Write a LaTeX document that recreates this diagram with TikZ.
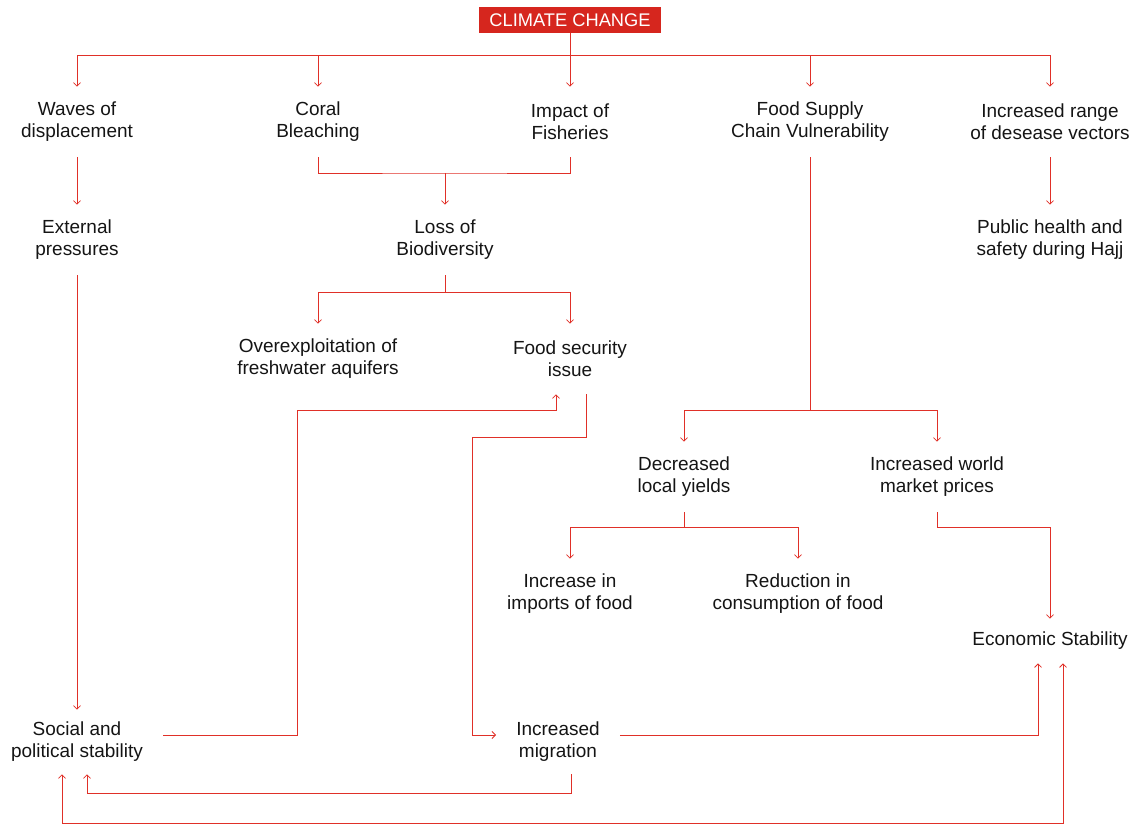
\documentclass[tikz,border=0pt]{standalone}
\usepackage{fontspec}
\setmainfont{Liberation Sans}
\usetikzlibrary{arrows.meta,calc}
\definecolor{flowred}{RGB}{224,48,40}
\definecolor{boxred}{RGB}{214,38,30}
\definecolor{ink}{RGB}{20,20,20}
\tikzset{
    item/.style={align=center, text=ink, inner xsep=0.5cm, inner ysep=0pt,
        minimum height=1.75cm, font=\fontsize{13.5}{15.6}\selectfont},
    single/.style={item, minimum height=1.1cm},
    low/.style={item, minimum height=1.6cm},
    link/.style={draw=flowred, line width=0.6pt},
    arr/.style={link, -{Straight Barb[length=2.5pt,width=5pt]}},
    both/.style={link, {Straight Barb[length=2.5pt,width=5pt]}-{Straight Barb[length=2.5pt,width=5pt]}},
}
\begin{document}
\begin{tikzpicture}[x=0.025cm, y=-0.025cm]
    \useasboundingbox (0,0) rectangle (1145,824);

    % Root box
    \node[fill=boxred, text=white, minimum width=4.525cm, minimum height=0.65cm,
        inner sep=0pt, font=\fontsize{13}{15}\selectfont] (cc) at (570,20) {CLIMATE CHANGE};

    % First row of effects
    \node[item] (waves) at (77,122) {Waves of\\displacement};
    \node[item] (coral) at (318,122) {Coral\\Bleaching};
    \node[item] (fish) at (570,122) {Impact of\\Fisheries};
    \node[item] (food) at (810,122) {Food Supply\\Chain Vulnerability};
    \node[item] (range) at (1050,122) {Increased range\\of desease vectors};

    % Further consequences
    \node[item] (ext) at (77,240) {External\\pressures};
    \node[item] (loss) at (445,240) {Loss of\\Biodiversity};
    \node[item] (health) at (1050,240) {Public health and\\safety during Hajj};
    \node[item] (over) at (318,359) {Overexploitation of\\freshwater aquifers};
    \node[item] (sec) at (570,359) {Food security\\issue};
    \node[item] (dec) at (684,477) {Decreased\\local yields};
    \node[item] (world) at (937,477) {Increased world\\market prices};
    \node[item] (imp) at (570,594) {Increase in\\imports of food};
    \node[item] (red) at (798,594) {Reduction in\\consumption of food};
    \node[single] (econ) at (1050,641) {Economic Stability};
    \node[low] (soc) at (77,742) {Social and\\political stability};
    \node[low] (mig) at (558,742) {Increased\\migration};

    % Junctions and bends
    \coordinate (j1) at (445,173);
    \coordinate (j2) at (445,292);
    \coordinate (j3) at (810,410);
    \coordinate (j4) at (684,527);
    \coordinate (b1) at (297,410);
    \coordinate (b2) at (472,437);
    \coordinate (floor) at (0,823);

    % Root to first row
    \draw[link] (cc.south) -- ++(0,22) coordinate (hub);
    \foreach \n in {waves,coral,fish,food,range}
        \draw[arr] (hub) -| (\n.north);

    % Tree branches
    \draw[arr] (waves.south) -- (ext.north);
    \draw[link] (coral.south) |- (j1) -| (fish.south);
    \draw[arr] (j1) -- (loss.north);
    \draw[link] (loss.south) -- (j2);
    \draw[arr] (j2) -| (over.north);
    \draw[arr] (j2) -| (sec.north);
    \draw[arr] (range.south) -- (health.north);
    \draw[link] (food.south) -- (j3);
    \draw[arr] (j3) -| (dec.north);
    \draw[arr] (j3) -| (world.north);
    \draw[link] (dec.south) -- (j4);
    \draw[arr] (j4) -| (imp.north);
    \draw[arr] (j4) -| (red.north);
    \draw[arr] (world.south) -- ++(0,15) -| (econ.north);

    % Feedback loops
    \draw[arr] (ext.south) -- (soc.north);
    \draw[arr] ($(soc.east)+(0,-7)$) -| (b1) -| ($(sec.south)+(-14,0)$);
    \draw[arr] ($(sec.south)+(16,0)$) |- (b2) |- ($(mig.west)+(0,-7)$);
    \draw[arr] ($(mig.east)+(0,-7)$) -| ($(econ.south)+(-12,0)$);
    \draw[arr] ($(mig.south)+(13,0)$) -- ++(0,19) -| ($(soc.south)+(10,0)$);
    \draw[both] ($(econ.south)+(13,0)$) coordinate (e1) -- (e1 |- floor) -| ($(soc.south)+(-15,0)$);
\end{tikzpicture}
\end{document}
